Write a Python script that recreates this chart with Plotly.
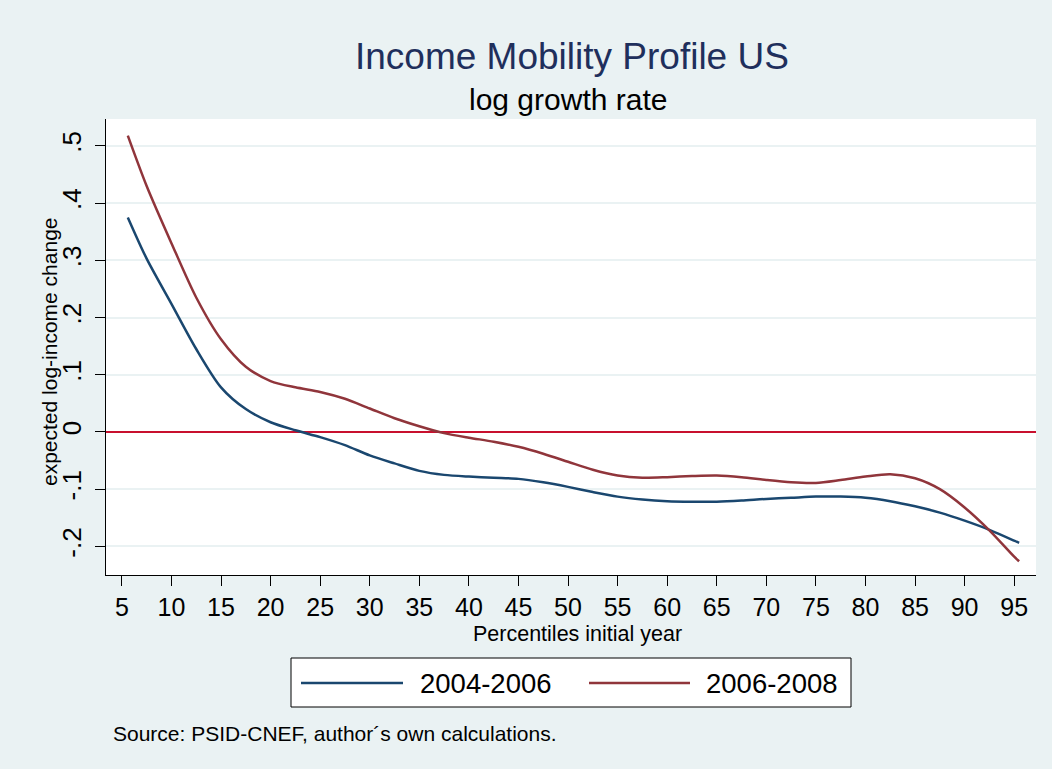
import plotly.graph_objects as go

# ---- data ----
percentiles = [5.6, 7.5, 10, 12.5, 15, 17.5, 20, 22.5, 25, 27.5, 30, 32.5, 35, 37.5,
               40, 42.5, 45, 47.5, 50, 52.5, 55, 57.5, 60, 62.5, 65, 67.5, 70, 72.5,
               75, 77.5, 80, 82.5, 85, 87.5, 90, 92.5, 95, 95.5]
growth_2004_2006 = [0.375, 0.303, 0.224, 0.145, 0.078, 0.040, 0.017, 0.003, -0.009, -0.023,
                    -0.041, -0.055, -0.068, -0.075, -0.078, -0.080, -0.082, -0.088, -0.096,
                    -0.105, -0.113, -0.118, -0.121, -0.122, -0.122, -0.120, -0.117, -0.115,
                    -0.113, -0.113, -0.115, -0.121, -0.130, -0.141, -0.155, -0.171, -0.190,
                    -0.194]
growth_2006_2008 = [0.518, 0.430, 0.330, 0.235, 0.162, 0.114, 0.089, 0.078, 0.070, 0.058,
                    0.041, 0.024, 0.010, -0.002, -0.010, -0.017, -0.026, -0.038, -0.052,
                    -0.066, -0.076, -0.080, -0.079, -0.077, -0.076, -0.079, -0.084, -0.088,
                    -0.089, -0.084, -0.078, -0.074, -0.081, -0.100, -0.132, -0.172, -0.218,
                    -0.226]
series_names = ["2004-2006", "2006-2008"]
x_ticks = list(range(5, 100, 5))
y_ticks = [-0.2, -0.1, 0, 0.1, 0.2, 0.3, 0.4, 0.5]
y_ticktext = ["-.2", "-.1", "0", ".1", ".2", ".3", ".4", ".5"]

BLUE = "#1a476f"
RED = "#90353b"
BG = "#eaf2f3"
FONT = "Liberation Sans, Arial, sans-serif"

fig = go.Figure()
fig.add_trace(go.Scatter(x=percentiles, y=growth_2004_2006, mode="lines", name=series_names[0],
                         line=dict(color=BLUE, width=2.5, shape="spline", smoothing=0.8),
                         showlegend=False))
fig.add_trace(go.Scatter(x=percentiles, y=growth_2006_2008, mode="lines", name=series_names[1],
                         line=dict(color=RED, width=2.5, shape="spline", smoothing=0.8),
                         showlegend=False))

# plot area in pixels: x 106..1036, y 119..575
L, R, T, B = 106, 1036, 119, 575
W, H = R - L, B - T
def px(x):
    return (x - L) / W
def py(y):
    return (B - y) / H

fig.update_layout(
    width=1052, height=769,
    margin=dict(l=L, r=1052 - R, t=T, b=769 - B, pad=0),
    paper_bgcolor=BG, plot_bgcolor="white",
    font=dict(family=FONT, color="black"),
    xaxis=dict(range=[3.4, 97.2], tickvals=x_ticks, ticks="outside", ticklen=10,
               tickcolor="black", tickwidth=1, showline=True, linecolor="black", linewidth=1,
               showgrid=False, zeroline=False, tickfont=dict(size=25, family=FONT)),
    yaxis=dict(range=[-0.25, 0.547], tickvals=y_ticks, ticktext=y_ticktext, tickangle=-90,
               ticks="outside", ticklen=10, tickcolor="black", tickwidth=1,
               showline=True, linecolor="black", linewidth=1,
               showgrid=True, gridcolor=BG, gridwidth=1.6,
               zeroline=True, zerolinecolor="#c8102e", zerolinewidth=2,
               ticklabelstandoff=4,
               tickfont=dict(size=26, family=FONT)),
    showlegend=False,
)

ann = []
ann.append(dict(text="Income Mobility Profile US", x=px(572), y=py(56), xref="paper", yref="paper",
                xanchor="center", yanchor="middle", showarrow=False,
                font=dict(size=37, color="#1f2f5c", family=FONT)))
ann.append(dict(text="log growth rate", x=px(568), y=py(100), xref="paper", yref="paper",
                xanchor="center", yanchor="middle", showarrow=False,
                font=dict(size=30, color="black", family=FONT)))
ann.append(dict(text="Percentiles initial year", x=px(577), y=py(634), xref="paper", yref="paper",
                xanchor="center", yanchor="middle", showarrow=False,
                font=dict(size=21.5, color="black", family=FONT)))
ann.append(dict(text="expected log-income change", x=px(49), y=py(352), xref="paper", yref="paper",
                xanchor="center", yanchor="middle", textangle=-90, showarrow=False,
                font=dict(size=21, color="black", family=FONT)))
ann.append(dict(text="Source: PSID-CNEF, author\u00b4s own calculations.", x=px(111), y=py(733),
                xref="paper", yref="paper", xanchor="left", yanchor="middle", showarrow=False,
                font=dict(size=21, color="black", family=FONT)))
# legend entries
ann.append(dict(text=series_names[0], x=px(418), y=py(683), xref="paper", yref="paper",
                xanchor="left", yanchor="middle", showarrow=False,
                font=dict(size=27.5, color="black", family=FONT)))
ann.append(dict(text=series_names[1], x=px(704), y=py(683), xref="paper", yref="paper",
                xanchor="left", yanchor="middle", showarrow=False,
                font=dict(size=27.5, color="black", family=FONT)))
fig.update_layout(annotations=ann)

shapes = []
shapes.append(dict(type="rect", xref="paper", yref="paper", x0=px(291), x1=px(851),
                   y0=py(707), y1=py(658), fillcolor="white", line=dict(color="black", width=1)))
shapes.append(dict(type="line", xref="paper", yref="paper", x0=px(301), x1=px(403),
                   y0=py(683), y1=py(683), line=dict(color=BLUE, width=2.5)))
shapes.append(dict(type="line", xref="paper", yref="paper", x0=px(589), x1=px(690),
                   y0=py(683), y1=py(683), line=dict(color=RED, width=2.5)))
fig.update_layout(shapes=shapes)

fig.write_html("out.html", config={"displayModeBar": False},
               post_script="document.body.style.margin='0';document.body.style.padding='0';")
